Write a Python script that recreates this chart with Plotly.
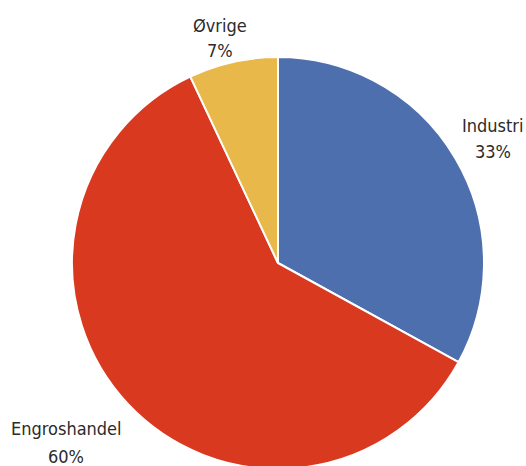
import plotly.graph_objects as go

labels = ["Industri", "Engroshandel", "Øvrige"]
values = [33, 60, 7]
colors = ["#4E6FAD", "#D9391F", "#E8B84A"]

# Figure is a little taller than the window so the pie runs off the bottom edge.
W, H = 526, 474
cx, cy, r = 278, 263, 206

fig = go.Figure(go.Pie(
    labels=labels,
    values=values,
    sort=False,
    direction="clockwise",
    rotation=0,
    marker=dict(colors=colors, line=dict(color="white", width=2)),
    textinfo="none",
    showlegend=False,
    hoverinfo="label+percent",
    domain=dict(x=[(cx - r) / W, (cx + r) / W],
                y=[1 - (cy + r) / H, 1 - (cy - r) / H]),
))

# label placement (pixel centres of the two text lines)
label_pos = {
    "Industri": (493, 125, 151),
    "Engroshandel": (66, 428, 456),
    "Øvrige": (220, 25, 50),
}
total = sum(values)
font = dict(family="DejaVu Sans Condensed, Open Sans, sans-serif", size=18, color="#2b2b2b")
for lab, val in zip(labels, values):
    x, y1, y2 = label_pos[lab]
    pct = f"{round(val / total * 100)}%"
    for txt, yy in ((lab, y1), (pct, y2)):
        fig.add_annotation(
            x=x / W, y=1 - yy / H, xref="paper", yref="paper",
            text=txt, showarrow=False, font=font,
            xanchor="center", yanchor="middle",
        )

fig.update_layout(
    width=W, height=H,
    margin=dict(l=0, r=0, t=0, b=0),
    paper_bgcolor="white",
    plot_bgcolor="white",
)

fig.write_html(
    "out.html",
    config={"displayModeBar": False},
    post_script=(
        "document.body.style.margin='0';"
        "document.body.style.overflow='hidden';"
        "document.documentElement.style.overflow='hidden';"
    ),
)
